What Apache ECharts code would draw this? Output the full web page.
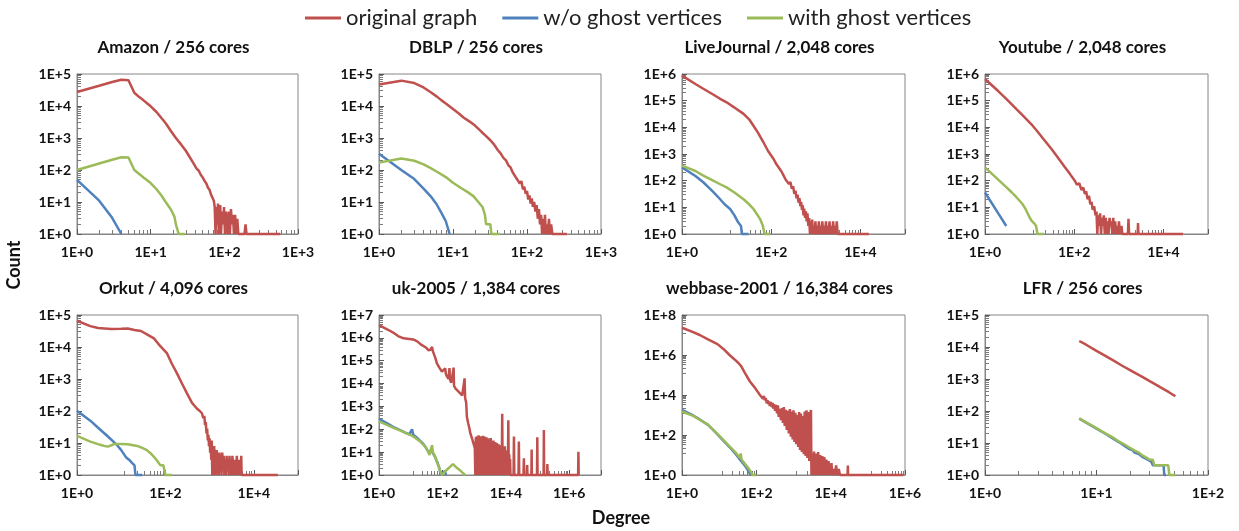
<!DOCTYPE html>
<html>
<head>
<meta charset="utf-8">
<script src="https://cdn.jsdelivr.net/npm/echarts@6/dist/echarts.min.js"></script>
<style>
html,body{margin:0;padding:0;background:#ffffff;}
#chart{width:1239px;height:531px;}
</style>
</head>
<body>
<div id="chart"></div>
<script>
// ---------------- data (degree, count) ----------------
const seriesNames = ['original graph', 'w/o ghost vertices', 'with ghost vertices'];
const panelTitles = ['Amazon / 256 cores', 'DBLP / 256 cores', 'LiveJournal / 2,048 cores', 'Youtube / 2,048 cores',
  'Orkut / 4,096 cores', 'uk-2005 / 1,384 cores', 'webbase-2001 / 16,384 cores', 'LFR / 256 cores'];
const xMaxValues = [1e3, 1e3, 1e5, 1e5, 1e5, 1e7, 1e6, 1e2];
const xLabelSteps = [1, 1, 2, 2, 2, 2, 2, 1];
const yMaxValues = [1e5, 1e5, 1e6, 1e6, 1e5, 1e7, 1e8, 1e5];
const yLabelSteps = [1, 1, 1, 1, 1, 1, 2, 1];

const amazonOrig = [[1,27500],[2,43000],[3,56000],[4,66000],[5,64000],[6,26000],[7,19000],[8,15000],[9,12000],[10,9800],[12,6500],[14,4200],[16,2900],[19,1600],[22,1000],[26,620],[30,400],[34,250],[38,165],[42,110],[45,95],[48,70],[51,58],[54,45],[57,38],[60,28],[63,24],[66,17],[69,15],[72,11],[74,7],[76,1],[78,7],[80,2],[82,9],[84,1],[86,4],[88,8],[90,1],[93,5],[96,2],[99,7],[102,1],[105,5],[108,3],[111,1],[115,5],[119,1],[123,6],[127,2],[131,4],[135,1],[140,4],[145,1],[150,3],[155,1],[188,1],[194,2],[200,1],[575,1]];
const amazonWo = [[1,49],[2,11],[3,3.2],[4,1]];
const amazonWith = [[1,100],[2,160],[3,208],[4,250],[5,245],[6,100],[7,75],[8,58],[10,39],[12,25],[14,16],[16,10],[19,5.6],[21,3.5],[22,2],[23,2],[24,1],[29,1]];

const dblpOrig = [[1,47000],[2,62000],[3,52000],[4,38000],[5,27000],[6,20000],[7,15000],[8,12000],[10,8000],[12,5800],[14,4300],[17,3200],[20,2400],[24,1600],[28,1150],[32,850],[36,620],[40,430],[44,330],[48,240],[52,200],[56,140],[60,120],[64,85],[68,90],[72,55],[76,60],[80,38],[84,45],[88,25],[92,30],[96,18],[100,22],[104,12],[108,16],[112,9],[116,13],[120,7],[125,10],[130,5],[135,8],[140,3],[145,6],[150,2],[155,4],[160,1],[165,3],[170,1],[175,4],[180,1],[186,2],[192,1],[198,3],[205,1],[212,2],[220,1],[345,1]];
const dblpWo = [[1,320],[2,100],[3,52],[4,26],[5,15],[6,8.5],[7,4.5],[8,2.5],[9,1]];
const dblpWith = [[1,170],[2,230],[3,195],[4,150],[5,115],[6,90],[8,60],[10,40],[13,27],[16,20],[19,15],[22,10],[25,7],[27,4],[28,2],[32,2],[33,1],[43,1]];

const ljOrig = [[1,870000],[2,420000],[3,280000],[5,170000],[7,120000],[10,87000],[15,55000],[24,32000],[32,20000],[40,11500],[50,6500],[67,2750],[85,1300],[113,650],[130,420],[150,300],[170,220],[190,155],[210,110],[230,125],[250,75],[270,90],[290,50],[310,62],[330,32],[350,42],[370,22],[390,30],[410,15],[430,22],[450,11],[470,16],[490,8],[510,12],[530,5],[550,9],[575,4],[600,7],[625,3],[650,6],[680,2],[710,4],[740,1],[770,3],[800,1],[830,3.5],[860,1],[900,2],[940,1],[980,3],[1020,1],[1070,2],[1120,1],[1170,3],[1220,1],[1280,2],[1340,1],[1400,3],[1470,1],[1540,2],[1610,1],[1690,3],[1770,1],[1850,2],[1940,1],[2030,3],[2130,1],[2230,2],[2340,1],[2450,3],[2560,1],[2690,2],[2820,1],[2950,3],[3100,1],[15500,1]];
const ljWo = [[1,316],[2,150],[3,87],[4,55],[5,38],[7,21],[9,13],[12,8.7],[15,5],[18,2.8],[21,2],[22,1],[31,1]];
const ljWith = [[1,365],[2,230],[3,155],[5,100],[7,75],[10,56],[15,36],[24,20],[32,13],[40,8.7],[48,5.5],[56,3.7],[62,2.5],[65,2],[70,2],[71,1],[95,1]];

const ytOrig = [[1,650000],[2,225000],[3,117000],[5,49000],[7,28000],[11,13000],[15,7000],[20,3800],[31,1550],[45,660],[62,320],[80,180],[103,100],[115,70],[130,80],[145,45],[160,55],[173,32],[185,40],[200,20],[215,27],[230,13],[245,16],[260,8],[280,11],[300,5],[316,7],[330,1],[345,5],[360,2],[380,6],[400,1],[420,4],[440,2],[460,5],[485,1],[510,4],[535,1],[560,3],[590,1],[620,4],[650,2],[680,3],[715,1],[750,4],[790,1],[830,3],[870,1],[915,2],[960,1],[1010,3],[1060,1],[1150,2],[1200,1],[1600,1],[1650,3.7],[1700,1],[2650,1],[2700,2.6],[2750,1],[27500,1]];
const ytWo = [[1,36],[2,5.8],[3,2]];
const ytWith = [[1,316],[2,107],[3,57],[4,36],[5,24.5],[7,13],[8,9],[9,6],[10,4.2],[11,3.2],[13,2.4],[14,2],[15,1],[21,1]];

const orkutOrig = [[1,66000],[2,45000],[3,39000],[6,36500],[10,37000],[14,38000],[20,34000],[28,31600],[40,24000],[55,18600],[75,11000],[109,6300],[140,3000],[183,1500],[240,700],[308,355],[400,180],[515,120],[600,100],[670,85],[720,60],[760,70],[790,36],[820,45],[850,20],[880,28],[910,12],[940,18],[970,8],[1000,14],[1030,5],[1060,10],[1090,3],[1120,12],[1150,1],[1190,6],[1230,1],[1270,8],[1310,2],[1350,5],[1400,1],[1450,6],[1500,2],[1550,4],[1610,1],[1670,5],[1730,2],[1790,4],[1860,1],[1930,5],[2000,2],[2080,4],[2160,1],[2240,3],[2330,1],[2420,4],[2510,2],[2610,3],[2710,1],[2820,4],[2930,1],[3040,3],[3160,1],[3280,4],[3410,2],[3540,3],[3680,1],[3820,3],[3970,1],[4130,4],[4290,1],[4460,3],[4640,1],[4820,3],[5010,1],[5200,4],[5300,1],[35000,1]];
const orkutWo = [[1,102],[2,50],[3,30],[5,16],[8,8.7],[10,6],[13,3.5],[15,3],[18,2.3],[20,2],[21,1],[30,1]];
const orkutWith = [[1,16.6],[2,11],[3,9.2],[4,8.2],[5,7.7],[6,8.5],[7,9.3],[10,9.3],[14,9.2],[23,8.1],[30,7],[38,6],[46,4.8],[55,3.7],[65,2.8],[77,2],[90,2],[100,1],[141,1]];

const ukOrig = [[1,3600000],[2,2200000],[3,1600000],[4,1200000],[6,950000],[9,900000],[12,850000],[16,700000],[22,490000],[30,380000],[36,290000],[42,300000],[47,400000],[50,260000],[53,210000],[60,130000],[67,76000],[80,50000],[96,33000],[110,30000],[123,46000],[128,26000],[140,20000],[155,16000],[167,48000],[172,15000],[190,11000],[210,9000],[225,50000],[232,8000],[260,6000],[300,5000],[365,3700],[420,3000],[470,2600],[500,17000],[520,2300],[560,1500],[590,355],[650,180],[700,120],[760,66],[820,80],[880,35],[960,29],[1050,15],[1090,1],[1130,45],[1170,1],[1210,50],[1250,2],[1290,40],[1330,1],[1380,55],[1420,3],[1470,45],[1510,1],[1560,50],[1610,2],[1660,38],[1720,1],[1770,45],[1830,3],[1890,52],[1950,1],[2010,40],[2080,2],[2150,48],[2220,1],[2290,35],[2360,2],[2440,45],[2520,1],[2600,30],[2680,3],[2770,40],[2860,1],[2950,28],[3050,2],[3150,35],[3250,1],[3350,42],[3460,2],[3570,30],[3690,1],[3810,25],[3930,3],[4060,32],[4190,1],[4330,22],[4460,2],[4610,28],[4760,1],[4910,20],[5070,2],[5230,25],[5400,1],[5580,18],[5760,2],[5950,22],[6140,1],[6340,15],[6540,2],[6750,20],[6970,1],[7200,12],[7430,2],[7680,480],[7920,1],[8180,15],[8440,2],[8720,10],[9000,1],[9300,18],[9590,1],[9900,8],[10200,2],[10550,12],[10900,1],[11250,6],[11600,1],[11950,250],[12400,1],[12800,8],[13200,1],[13600,5],[14000,1],[17500,1],[18000,48],[18500,1],[25000,1],[25700,29],[26400,1],[36000,1],[37000,5.4],[38000,1],[46000,1],[47000,2.7],[48000,1],[64000,1],[65000,13],[66000,1],[96000,1],[98000,45],[100000,1],[155000,1],[158000,93],[161000,1],[200000,1],[204000,3],[208000,1],[1900000,1],[1940000,10.5],[1980000,1]];
const ukWo = [[1,285],[2,170],[3,120],[5,88],[7,70],[9,60],[10,70],[11,100],[12,58],[15,45],[20,31],[25,23],[29,17],[34,12],[39,9],[44,13],[47,14],[50,9],[59,6],[70,3.5],[80,2],[88,1],[100,1],[120,1.5],[130,1]];
const ukWith = [[1,224],[2,145],[3,113],[5,85],[7,68],[10,56],[14,42],[20,29],[29,17],[35,11],[39,7.5],[44,14],[47,20],[50,10],[59,6.3],[68,3.5],[76,2.3],[85,1.5],[96,1],[138,1.7],[215,3],[270,2.2],[325,1.8],[420,1.3],[525,1]];

const webOrig = [[1,23000000],[2,14000000],[3,10000000],[5,6000000],[9,3500000],[13,2000000],[19,1000000],[26,600000],[33,400000],[36,320000],[37,470000],[39,280000],[50,120000],[68,46000],[90,24000],[110,14000],[125,10000],[140,8500],[150,6500],[160,9000],[170,5500],[180,7000],[190,3800],[200,5500],[210,3500],[220,4800],[230,2800],[245,4500],[260,2500],[275,4000],[284,2100],[300,3500],[320,1600],[340,3200],[360,1200],[380,3000],[400,800],[430,2000],[460,560],[490,2200],[520,400],[550,2500],[580,280],[620,1800],[660,180],[700,1600],[750,120],[800,2000],[850,83],[900,1500],[950,60],[1000,1700],[1060,45],[1120,1300],[1190,35],[1260,1000],[1340,25],[1420,1400],[1500,18],[1590,1200],[1680,14],[1780,900],[1890,11],[2000,1500],[2120,9],[2240,1700],[2370,7],[2510,1400],[2660,5],[2800,1000],[2950,1800],[3020,4],[3050,1],[3150,12],[3250,1],[3350,9],[3460,2],[3570,15],[3690,1],[3810,10],[3930,1],[4060,12],[4190,2],[4330,8],[4460,1],[4610,14],[4760,1],[4910,6],[5070,1],[5230,10],[5400,2],[5580,4],[5760,1],[5950,9],[6140,1],[6340,5],[6540,1],[6750,8],[6970,1],[7200,3],[7430,1],[7680,6],[7920,1],[8200,4],[8500,1],[8800,5],[9100,1],[9500,3],[10000,1],[10500,4],[11000,1],[12000,2],[13000,1],[14000,3],[15000,1],[16500,2],[17800,1],[28500,1],[29000,3],[29500,1],[900000,1]];
const webWo = [[1,1800],[2,950],[3,600],[5,320],[8,135],[12,60],[19,25],[28,11],[36,6],[50,2.8],[61,1.6],[70,1],[72,1]];
const webWith = [[1,1500],[2,900],[3,580],[5,330],[8,140],[12,65],[19,27],[28,13],[36,7],[38,12],[40,6],[50,3.5],[61,2.2],[70,1.5],[80,1],[100,1]];

const lfrOrig = [[7,15400],[8,12000],[10,7600],[12,5300],[14,3900],[17,2600],[20,1900],[23,1450],[26,1150],[30,860],[35,630],[40,480],[45,380],[51,290]];
const lfrWo = [[7,58],[8,44],[10,28],[12,19.5],[14,14],[16,10.5],[18,8],[20,6.3],[21,6],[22,5],[24,4.5],[26,3.6],[28,3.2],[29,3],[31,2.6],[32,2],[40,2],[40.5,1],[42,1]];
const lfrWith = [[7,59],[8,45],[10,29],[12,20],[14,15],[16,11],[18,8.8],[20,7],[22,5.8],[24,5],[25,4.8],[26,4],[28,3.5],[29,3.7],[30,3],[32,3],[33,2],[44,2],[45,1],[51,1]];

const panelData = [
  [amazonOrig, amazonWo, amazonWith],
  [dblpOrig, dblpWo, dblpWith],
  [ljOrig, ljWo, ljWith],
  [ytOrig, ytWo, ytWith],
  [orkutOrig, orkutWo, orkutWith],
  [ukOrig, ukWo, ukWith],
  [webOrig, webWo, webWith],
  [lfrOrig, lfrWo, lfrWith]
];

// ---------------- layout & style ----------------
const colors = ['#c0504d', '#4f81bd', '#9bbb59'];
const gridBoxes = [
  {left: 77, top: 74, width: 221}, {left: 379, top: 74, width: 222}, {left: 682, top: 74, width: 223}, {left: 985, top: 74, width: 223},
  {left: 77, top: 315, width: 221}, {left: 379, top: 315, width: 222}, {left: 682, top: 315, width: 223}, {left: 985, top: 315, width: 223}
];
const plotHeight = 160;
const axisGray = '#868686';
const labelFont = 'Lato';

function expFormatter(step) {
  return function (v) {
    const e = Math.round(Math.log10(v));
    return (e % step === 0) ? '1E+' + e : '';
  };
}

const grids = [], xAxes = [], yAxes = [], series = [], graphics = [];
gridBoxes.forEach(function (b, i) {
  grids.push({left: b.left, top: b.top, width: b.width, height: plotHeight, show: true, borderColor: axisGray});
  function axisBase() {
    return {
      gridIndex: i, type: 'log', min: 1,
      axisLine: {show: true, lineStyle: {color: axisGray}},
      axisTick: {show: true, inside: true, length: 5, lineStyle: {color: '#595959', width: 1}},
      minorTick: {show: true, splitNumber: 9, length: 4, lineStyle: {color: '#7a7a7a', width: 1}},
      splitLine: {show: false}
    };
  }
  const xa = axisBase();
  xa.max = xMaxValues[i];
  xa.interval = xLabelSteps[i];
  xa.axisLabel = {formatter: expFormatter(xLabelSteps[i]), fontFamily: labelFont, fontWeight: 'bold', fontSize: 14, color: '#111', margin: 11};
  xAxes.push(xa);
  const ya = axisBase();
  ya.max = yMaxValues[i];
  ya.interval = yLabelSteps[i];
  ya.axisLabel = {formatter: expFormatter(yLabelSteps[i]), fontFamily: labelFont, fontWeight: 'bold', fontSize: 14, color: '#111', margin: 6};
  yAxes.push(ya);
  panelData[i].forEach(function (d, k) {
    series.push({
      name: seriesNames[k], type: 'line', xAxisIndex: i, yAxisIndex: i, data: d,
      showSymbol: false, symbol: 'none', clip: false, silent: true, z: 2 + k,
      lineStyle: {width: 2.5, color: colors[k]}, itemStyle: {color: colors[k]},
      emphasis: {disabled: true}
    });
  });
  graphics.push({
    type: 'text', x: b.left + b.width / 2 - 14, y: b.top - 26, silent: true,
    style: {text: panelTitles[i], font: 'bold 17px Lato', fill: '#111',
      textAlign: 'center', textVerticalAlign: 'middle', align: 'center', verticalAlign: 'middle'}
  });
});
graphics.push({
  type: 'text', x: 14, y: 265, rotation: Math.PI / 2, silent: true,
  style: {text: 'Count', font: 'bold 18px Lato', fill: '#111',
    textAlign: 'center', textVerticalAlign: 'middle', align: 'center', verticalAlign: 'middle'}
});
graphics.push({
  type: 'text', x: 621, y: 518, silent: true,
  style: {text: 'Degree', font: 'bold 18px Lato', fill: '#111',
    textAlign: 'center', textVerticalAlign: 'middle', align: 'center', verticalAlign: 'middle'}
});

const chart = echarts.init(document.getElementById('chart'));
chart.setOption({
  animation: false,
  backgroundColor: '#ffffff',
  legend: {
    data: seriesNames, left: 300, top: 2, itemGap: 25, itemWidth: 36, itemHeight: 3, icon: 'rect',
    selectedMode: false,
    textStyle: {fontFamily: labelFont, fontSize: 22, color: '#222'}
  },
  grid: grids,
  xAxis: xAxes,
  yAxis: yAxes,
  series: series,
  graphic: graphics
});
</script>
</body>
</html>
